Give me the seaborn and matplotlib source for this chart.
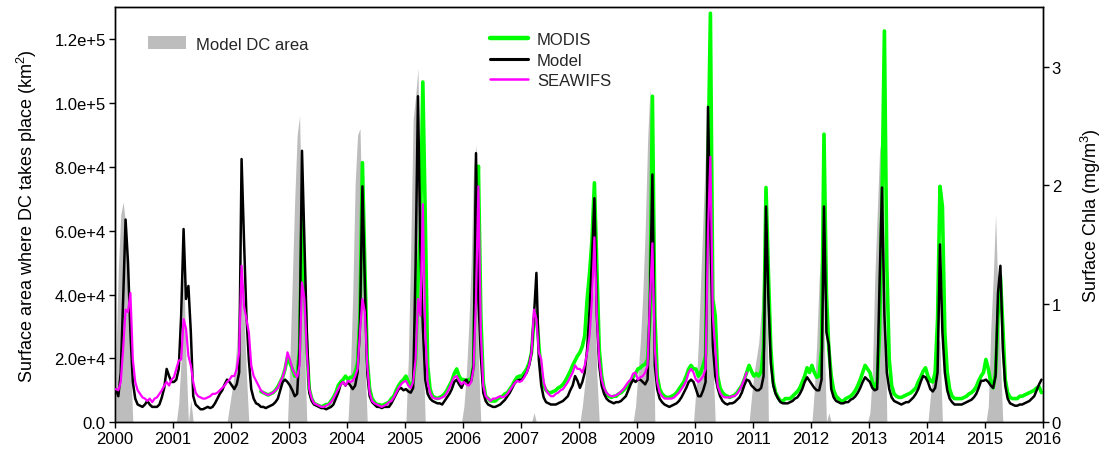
import numpy as np
import pandas as pd
import matplotlib
matplotlib.use("Agg")
import matplotlib.pyplot as plt
import seaborn as sns
from matplotlib.patches import Patch
from matplotlib.lines import Line2D

# ---------------- data (half-month bins, 24 per year) ----------------
STEPS_PER_YEAR = 24
first_year = 2000
last_year = 2015

# Model surface Chla (mg/m3), one row per year 2000..2015
model_chla = [
    [0.28, 0.22, 0.42, 1.04, 1.71, 1.35, 0.76, 0.34, 0.20, 0.15, 0.14, 0.13, 0.15, 0.18, 0.15, 0.13, 0.13, 0.13, 0.15, 0.21, 0.29, 0.45, 0.39, 0.34],
    [0.34, 0.36, 0.45, 0.90, 1.63, 1.04, 1.15, 0.76, 0.22, 0.15, 0.13, 0.11, 0.11, 0.12, 0.13, 0.12, 0.13, 0.16, 0.20, 0.24, 0.27, 0.32, 0.36, 0.34],
    [0.31, 0.28, 0.32, 0.42, 2.22, 1.54, 0.90, 0.53, 0.28, 0.20, 0.16, 0.15, 0.13, 0.13, 0.12, 0.13, 0.14, 0.15, 0.17, 0.20, 0.27, 0.34, 0.36, 0.34],
    [0.31, 0.27, 0.22, 0.24, 0.62, 2.29, 1.54, 0.76, 0.25, 0.18, 0.15, 0.14, 0.13, 0.12, 0.12, 0.11, 0.12, 0.13, 0.15, 0.20, 0.25, 0.32, 0.34, 0.31],
    [0.34, 0.31, 0.28, 0.31, 0.42, 0.84, 1.99, 1.18, 0.42, 0.22, 0.17, 0.15, 0.13, 0.13, 0.12, 0.13, 0.13, 0.13, 0.16, 0.20, 0.24, 0.28, 0.29, 0.27],
    [0.28, 0.26, 0.25, 0.29, 1.32, 2.75, 1.46, 0.81, 0.36, 0.24, 0.20, 0.18, 0.17, 0.16, 0.16, 0.15, 0.18, 0.21, 0.24, 0.28, 0.34, 0.36, 0.32, 0.29],
    [0.34, 0.36, 0.32, 0.35, 0.48, 2.27, 1.04, 0.56, 0.25, 0.18, 0.15, 0.14, 0.13, 0.13, 0.14, 0.15, 0.17, 0.19, 0.22, 0.25, 0.29, 0.33, 0.35, 0.36],
    [0.36, 0.39, 0.42, 0.48, 0.59, 0.90, 1.26, 0.53, 0.31, 0.21, 0.17, 0.16, 0.15, 0.15, 0.15, 0.16, 0.17, 0.18, 0.20, 0.22, 0.27, 0.31, 0.39, 0.35],
    [0.29, 0.34, 0.42, 0.62, 0.95, 1.37, 1.89, 0.90, 0.48, 0.31, 0.24, 0.20, 0.18, 0.17, 0.16, 0.17, 0.17, 0.18, 0.20, 0.22, 0.27, 0.32, 0.36, 0.34],
    [0.36, 0.36, 0.34, 0.32, 0.36, 1.04, 2.09, 0.48, 0.28, 0.20, 0.17, 0.15, 0.14, 0.13, 0.14, 0.15, 0.16, 0.18, 0.21, 0.25, 0.29, 0.34, 0.36, 0.34],
    [0.28, 0.22, 0.22, 0.27, 0.34, 2.66, 1.60, 0.65, 0.39, 0.29, 0.22, 0.18, 0.16, 0.15, 0.16, 0.16, 0.17, 0.19, 0.21, 0.25, 0.31, 0.36, 0.35, 0.31],
    [0.29, 0.27, 0.27, 0.29, 0.39, 1.82, 1.04, 0.50, 0.31, 0.24, 0.20, 0.17, 0.16, 0.16, 0.16, 0.17, 0.18, 0.20, 0.21, 0.24, 0.28, 0.34, 0.38, 0.35],
    [0.32, 0.29, 0.27, 0.27, 0.36, 1.82, 0.76, 0.65, 0.28, 0.21, 0.18, 0.17, 0.16, 0.16, 0.17, 0.17, 0.19, 0.20, 0.22, 0.25, 0.29, 0.34, 0.38, 0.36],
    [0.34, 0.29, 0.27, 0.28, 1.18, 1.98, 0.90, 0.42, 0.28, 0.21, 0.18, 0.17, 0.16, 0.15, 0.16, 0.17, 0.17, 0.19, 0.21, 0.24, 0.28, 0.34, 0.39, 0.38],
    [0.34, 0.28, 0.26, 0.29, 0.42, 1.50, 0.76, 0.42, 0.27, 0.20, 0.17, 0.15, 0.15, 0.15, 0.15, 0.16, 0.17, 0.18, 0.19, 0.21, 0.24, 0.29, 0.35, 0.35],
    [0.36, 0.34, 0.31, 0.29, 0.39, 1.09, 1.32, 0.62, 0.31, 0.20, 0.16, 0.15, 0.14, 0.14, 0.15, 0.15, 0.16, 0.17, 0.18, 0.20, 0.22, 0.27, 0.32, 0.36],
]

# MODIS surface Chla, starting mid-2002 (bin 12 of 2002)
modis_start_year = 2002
modis_start_bin = 12
modis_chla = [
    [0.26, 0.25, 0.24, 0.23, 0.24, 0.25, 0.27, 0.30, 0.34, 0.38, 0.45, 0.55],
    [0.50, 0.45, 0.39, 0.39, 0.62, 1.74, 1.18, 0.62, 0.28, 0.20, 0.16, 0.15, 0.14, 0.13, 0.14, 0.15, 0.15, 0.18, 0.21, 0.25, 0.31, 0.34, 0.36, 0.39],
    [0.36, 0.38, 0.38, 0.42, 0.50, 0.90, 2.19, 1.32, 0.53, 0.28, 0.20, 0.17, 0.15, 0.15, 0.14, 0.15, 0.16, 0.17, 0.20, 0.22, 0.27, 0.31, 0.34, 0.36],
    [0.39, 0.34, 0.31, 0.34, 0.53, 1.18, 1.60, 2.87, 1.74, 0.48, 0.28, 0.22, 0.21, 0.20, 0.21, 0.22, 0.24, 0.27, 0.31, 0.35, 0.41, 0.45, 0.39, 0.36],
    [0.36, 0.34, 0.36, 0.36, 0.48, 1.60, 2.16, 0.90, 0.34, 0.22, 0.20, 0.18, 0.18, 0.18, 0.20, 0.21, 0.22, 0.24, 0.25, 0.28, 0.31, 0.35, 0.38, 0.39],
    [0.39, 0.42, 0.45, 0.50, 0.59, 0.87, 0.93, 0.65, 0.42, 0.31, 0.27, 0.25, 0.25, 0.26, 0.27, 0.29, 0.30, 0.32, 0.35, 0.39, 0.43, 0.48, 0.52, 0.56],
    [0.59, 0.64, 0.73, 1.04, 1.26, 1.54, 2.02, 1.32, 0.62, 0.39, 0.28, 0.24, 0.22, 0.21, 0.22, 0.22, 0.24, 0.25, 0.27, 0.29, 0.32, 0.35, 0.38, 0.41],
    [0.45, 0.46, 0.48, 0.49, 0.53, 0.90, 2.75, 0.90, 0.39, 0.28, 0.24, 0.22, 0.21, 0.21, 0.22, 0.23, 0.25, 0.28, 0.31, 0.34, 0.39, 0.45, 0.48, 0.45],
    [0.45, 0.39, 0.42, 0.48, 0.56, 2.16, 3.45, 1.04, 0.90, 0.39, 0.29, 0.25, 0.23, 0.22, 0.21, 0.22, 0.23, 0.25, 0.28, 0.31, 0.36, 0.42, 0.48, 0.43],
    [0.39, 0.41, 0.39, 0.43, 0.62, 1.98, 1.26, 0.62, 0.34, 0.25, 0.21, 0.18, 0.18, 0.20, 0.20, 0.20, 0.22, 0.24, 0.26, 0.29, 0.34, 0.39, 0.46, 0.42],
    [0.48, 0.42, 0.38, 0.39, 0.62, 2.43, 1.09, 0.62, 0.39, 0.27, 0.22, 0.20, 0.18, 0.18, 0.20, 0.21, 0.22, 0.24, 0.27, 0.31, 0.36, 0.42, 0.48, 0.45],
    [0.42, 0.34, 0.29, 0.34, 0.76, 1.88, 3.30, 1.32, 0.53, 0.31, 0.24, 0.22, 0.21, 0.21, 0.22, 0.23, 0.24, 0.25, 0.27, 0.29, 0.34, 0.38, 0.43, 0.46],
    [0.39, 0.35, 0.34, 0.42, 0.87, 1.99, 1.82, 0.76, 0.42, 0.28, 0.22, 0.20, 0.20, 0.20, 0.20, 0.21, 0.22, 0.24, 0.25, 0.27, 0.30, 0.35, 0.39, 0.42],
    [0.53, 0.45, 0.34, 0.29, 0.42, 0.90, 1.23, 0.81, 0.36, 0.25, 0.21, 0.20, 0.20, 0.20, 0.22, 0.22, 0.23, 0.24, 0.25, 0.26, 0.27, 0.29, 0.30, 0.25],
]

# SeaWiFS surface Chla, 2000 .. late 2010
seawifs_chla = [
    [0.28, 0.27, 0.34, 0.62, 0.95, 0.93, 1.09, 0.53, 0.34, 0.27, 0.24, 0.21, 0.20, 0.18, 0.20, 0.17, 0.20, 0.21, 0.24, 0.27, 0.31, 0.34, 0.31, 0.36],
    [0.38, 0.45, 0.52, 0.53, 0.87, 0.79, 0.56, 0.48, 0.34, 0.25, 0.22, 0.21, 0.20, 0.20, 0.21, 0.22, 0.24, 0.24, 0.25, 0.27, 0.29, 0.31, 0.34, 0.36],
    [0.39, 0.39, 0.45, 0.59, 1.32, 0.98, 0.87, 0.76, 0.48, 0.39, 0.35, 0.31, 0.27, 0.25, 0.24, 0.23, 0.24, 0.25, 0.27, 0.29, 0.34, 0.38, 0.45, 0.59],
    [0.53, 0.45, 0.41, 0.38, 0.48, 1.18, 1.04, 0.59, 0.28, 0.20, 0.16, 0.15, 0.14, 0.13, 0.13, 0.14, 0.15, 0.17, 0.20, 0.24, 0.28, 0.32, 0.34, 0.31],
    [0.35, 0.34, 0.35, 0.39, 0.45, 0.76, 1.04, 0.93, 0.48, 0.25, 0.18, 0.16, 0.15, 0.14, 0.13, 0.14, 0.15, 0.17, 0.18, 0.21, 0.25, 0.29, 0.32, 0.34],
    [0.35, 0.31, 0.29, 0.34, 0.53, 1.04, 0.90, 1.84, 0.76, 0.34, 0.25, 0.21, 0.20, 0.20, 0.20, 0.21, 0.22, 0.25, 0.29, 0.34, 0.38, 0.39, 0.35, 0.32],
    [0.34, 0.32, 0.31, 0.34, 0.45, 1.04, 1.99, 0.76, 0.31, 0.22, 0.20, 0.18, 0.20, 0.20, 0.21, 0.22, 0.21, 0.22, 0.24, 0.27, 0.30, 0.33, 0.35, 0.34],
    [0.35, 0.38, 0.42, 0.48, 0.59, 0.95, 0.87, 0.59, 0.53, 0.34, 0.27, 0.24, 0.22, 0.22, 0.24, 0.25, 0.27, 0.28, 0.31, 0.34, 0.38, 0.42, 0.48, 0.45],
    [0.45, 0.42, 0.48, 0.59, 0.73, 1.04, 1.56, 0.90, 0.53, 0.36, 0.29, 0.25, 0.23, 0.22, 0.22, 0.23, 0.24, 0.26, 0.28, 0.31, 0.34, 0.36, 0.41, 0.42],
    [0.36, 0.38, 0.39, 0.42, 0.48, 1.04, 1.51, 0.62, 0.34, 0.25, 0.22, 0.20, 0.20, 0.20, 0.20, 0.21, 0.23, 0.25, 0.28, 0.31, 0.35, 0.42, 0.45, 0.42],
    [0.36, 0.34, 0.36, 0.39, 0.45, 1.60, 2.24, 0.90, 0.62, 0.31, 0.25, 0.22, 0.21, 0.21, 0.21, 0.22, 0.22, 0.24, 0.27, 0.31, 0.36, 0.42],
]

# Model DC area (km2), one row per year, half-month bins
dc_area = [
    [20000, 48000, 65000, 69000, 62000, 45000, 20000, 0, 0, 0, 0, 0, 0, 0, 0, 0, 0, 0, 0, 0, 0, 0, 0, 0],
    [0, 0, 6000, 20000, 50000, 20000, 0, 7000, 0, 0, 0, 0, 0, 0, 0, 0, 0, 0, 0, 0, 0, 0, 0, 5000],
    [10000, 15000, 25000, 40000, 50000, 35000, 15000, 0, 0, 0, 0, 0, 0, 0, 0, 0, 0, 0, 0, 0, 0, 0, 0, 0],
    [20000, 45000, 70000, 90000, 96000, 60000, 25000, 0, 0, 0, 0, 0, 0, 0, 0, 0, 0, 0, 0, 0, 0, 0, 0, 0],
    [0, 15000, 40000, 75000, 90000, 92000, 60000, 20000, 0, 0, 0, 0, 0, 0, 0, 0, 0, 0, 0, 0, 0, 0, 0, 0],
    [0, 20000, 55000, 95000, 102000, 111000, 60000, 25000, 0, 0, 0, 0, 0, 0, 0, 0, 0, 0, 0, 0, 0, 0, 0, 0],
    [5000, 15000, 30000, 50000, 80000, 87000, 20000, 0, 0, 0, 0, 0, 0, 0, 0, 0, 0, 0, 0, 0, 0, 0, 0, 0],
    [0, 0, 0, 0, 0, 3000, 0, 0, 0, 0, 0, 0, 0, 0, 0, 0, 0, 0, 0, 0, 0, 0, 0, 0],
    [0, 5000, 12000, 20000, 30000, 38000, 45000, 15000, 0, 0, 0, 0, 0, 0, 0, 0, 0, 0, 0, 0, 0, 0, 0, 5000],
    [15000, 25000, 40000, 60000, 88000, 105000, 50000, 0, 0, 0, 0, 0, 0, 0, 0, 0, 0, 0, 0, 0, 0, 0, 0, 0],
    [10000, 25000, 45000, 65000, 85000, 99000, 60000, 20000, 0, 0, 0, 0, 0, 0, 0, 0, 0, 0, 0, 0, 0, 0, 0, 8000],
    [15000, 20000, 25000, 35000, 50000, 60000, 0, 0, 0, 0, 0, 0, 0, 0, 0, 0, 0, 0, 0, 0, 0, 0, 0, 0],
    [0, 10000, 25000, 45000, 56000, 30000, 0, 3000, 0, 0, 0, 0, 0, 0, 0, 0, 0, 0, 0, 0, 0, 0, 0, 0],
    [3000, 15000, 45000, 65000, 85000, 90000, 50000, 0, 0, 0, 0, 0, 0, 0, 0, 0, 0, 0, 0, 0, 0, 0, 0, 0],
    [0, 8000, 15000, 22000, 27000, 25000, 0, 0, 0, 0, 0, 0, 0, 0, 0, 0, 0, 0, 0, 0, 0, 0, 0, 0],
    [0, 5000, 29000, 45000, 65000, 40000, 20000, 0, 0, 0, 0, 0, 0, 0, 0, 0, 0, 0, 0, 0, 0, 0, 0, 0],
]

area_ticks = [0, 20000, 40000, 60000, 80000, 100000, 120000]
area_tick_labels = ["0.0", "2.0e+4", "4.0e+4", "6.0e+4", "8.0e+4", "1.0e+5", "1.2e+5"]
chla_ticks = [0, 1, 2, 3]
year_ticks = list(range(2000, 2017))

# ---------------- helpers ----------------
def series_times(start_year, start_bin, n):
    idx = start_bin + np.arange(n)
    return start_year + (idx + 0.5) / STEPS_PER_YEAR

def flat(rows):
    return np.array([v for r in rows for v in r], dtype=float)

model_v = flat(model_chla)
modis_v = flat(modis_chla)
seawifs_v = flat(seawifs_chla)
dc_v = flat(dc_area)

df_model = pd.DataFrame({"t": series_times(first_year, 0, len(model_v)), "chla": model_v})
df_modis = pd.DataFrame({"t": series_times(modis_start_year, modis_start_bin, len(modis_v)), "chla": modis_v})
df_seawifs = pd.DataFrame({"t": series_times(first_year, 0, len(seawifs_v)), "chla": seawifs_v})
t_dc = series_times(first_year, 0, len(dc_v))

# ---------------- figure ----------------
sns.set_theme(style="white")
plt.rcParams['font.family'] = ['Liberation Sans', 'DejaVu Sans']
plt.rcParams['mathtext.fontset'] = 'custom'
plt.rcParams['mathtext.rm'] = 'Liberation Sans'
plt.rcParams['mathtext.it'] = 'Liberation Sans:italic'
plt.rcParams['mathtext.bf'] = 'Liberation Sans:bold'

W, H = 1106, 456
fig = plt.figure(figsize=(W / 100, H / 100), dpi=100)
L, R, T, B = 114.7, 1042.7, 8.3, 423.3
ax = fig.add_axes([L / W, 1 - B / H, (R - L) / W, (B - T) / H])

gray = "#bdbdbd"
ax.fill_between(t_dc, 0, dc_v, color=gray, linewidth=0, zorder=1)
ax.set_xlim(2000, 2016)
ax.set_ylim(0, 130000)
ax.set_yticks(area_ticks)
ax.set_yticklabels(area_tick_labels)
ax.set_xticks(year_ticks)
ax.set_xticklabels([str(y) for y in year_ticks])

ax2 = ax.twinx()
sns.lineplot(data=df_modis, x="t", y="chla", ax=ax2, color="#00ff00", linewidth=2.6,
             estimator=None, sort=False, zorder=2)
sns.lineplot(data=df_model, x="t", y="chla", ax=ax2, color="black", linewidth=1.8,
             estimator=None, sort=False, zorder=3)
sns.lineplot(data=df_seawifs, x="t", y="chla", ax=ax2, color="#ff00ff", linewidth=1.6,
             estimator=None, sort=False, zorder=4)
ax2.set_ylim(0, 3.5)
ax2.set_yticks(chla_ticks)
ax2.set_yticklabels([str(v) for v in chla_ticks])
ax2.set_xlim(2000, 2016)
ax2.set_xlabel("")

fs = 12
for a in (ax, ax2):
    for s in a.spines.values():
        s.set_color("black")
        s.set_linewidth(1.0)
    a.tick_params(axis="both", which="major", direction="out", length=4.5, width=1.0,
                  color="black", labelsize=fs, labelcolor="black", pad=2)
    a.grid(False)
ax.tick_params(axis="y", left=True, right=False)
ax.tick_params(axis="x", bottom=True)
ax2.tick_params(axis="y", right=True, left=False)

ax.set_ylabel("Surface area where DC takes place (km$^\\mathregular{2}$)", fontsize=13, color="black")
ax.yaxis.set_label_coords(-0.082, 0.5)
ax2.set_ylabel("Surface Chla (mg/m$^\\mathregular{3}$)", fontsize=13, color="black")
ax2.yaxis.set_label_coords(1.039, 0.5)
ax.set_xlabel("")

leg1 = ax.legend(handles=[Patch(facecolor=gray, edgecolor="none", label="Model DC area")],
                 loc="upper left", bbox_to_anchor=(0.036, 0.93), frameon=False,
                 fontsize=fs, handlelength=2.3, handleheight=0.8, handletextpad=0.55,
                 borderaxespad=0, borderpad=0)

handles2 = [Line2D([0], [0], color="#00ff00", linewidth=3.2, label="MODIS"),
            Line2D([0], [0], color="black", linewidth=2.2, label="Model"),
            Line2D([0], [0], color="#ff00ff", linewidth=1.8, label="SEAWIFS")]
leg2 = ax2.legend(handles=handles2, loc="upper left", bbox_to_anchor=(0.404, 0.94),
                  frameon=False, fontsize=fs, handlelength=2.3, handletextpad=0.55,
                  labelspacing=0.32, borderaxespad=0, borderpad=0)

fig.savefig("out.png", dpi=100, facecolor="white")
